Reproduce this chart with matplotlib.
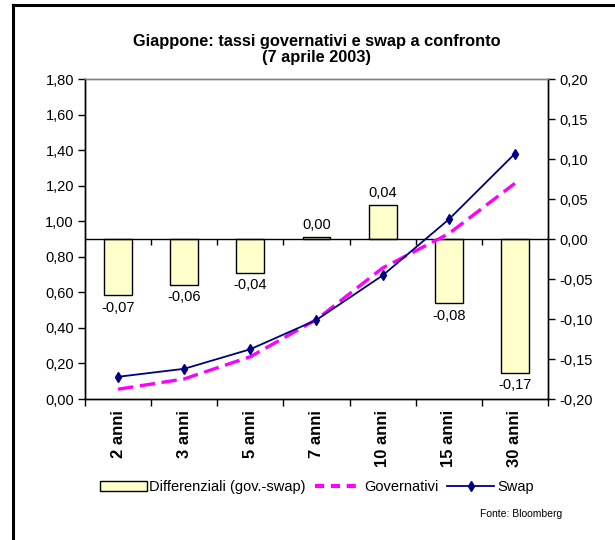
import numpy as np
import matplotlib.pyplot as plt
from matplotlib.lines import Line2D
from matplotlib.patches import Patch
from matplotlib.ticker import FuncFormatter

plt.rcParams['font.family'] = ['Liberation Sans', 'DejaVu Sans']

# Data
categories = ["2 anni", "3 anni", "5 anni", "7 anni", "10 anni", "15 anni", "30 anni"]
differenziali = [-0.070, -0.057, -0.042, 0.002, 0.042, -0.080, -0.167]
diff_labels = ["-0,07", "-0,06", "-0,04", "0,00", "0,04", "-0,08", "-0,17"]
governativi = [0.055, 0.113, 0.238, 0.447, 0.737, 0.930, 1.213]
swap = [0.125, 0.170, 0.280, 0.445, 0.695, 1.010, 1.380]


def comma_fmt(decimals):
    def f(v, p):
        v = round(v, decimals) + 0.0
        if v == 0:
            v = 0.0
        return f"{v:.{decimals}f}".replace(".", ",")
    return FuncFormatter(f)


fig = plt.figure(figsize=(6.15, 5.4), dpi=100)
ax = fig.add_axes([0.1382, 0.2611, 0.7528, 0.5926])
ax2 = ax.twinx()
x = np.arange(len(categories))

# Bars (differenziali) on the right-hand scale
ax.bar(x, differenziali, width=0.42, color="#ffffcc", edgecolor="black", linewidth=1.0, zorder=2)
ax.set_ylim(-0.20, 0.20)
ax.set_xlim(-0.5, len(categories) - 0.5)
ax.axhline(0, color="black", linewidth=1.0, zorder=3)
bounds = np.arange(len(categories) + 1) - 0.5
ax.vlines(bounds[1:-1], -0.007, 0, color="black", linewidth=1.0, zorder=3)
for xi, v, lab in zip(x, differenziali, diff_labels):
    if v >= 0:
        ax.annotate(lab, (xi, v), xytext=(0, 4), textcoords="offset points",
                    ha="center", va="bottom", fontsize=10.5)
    else:
        ax.annotate(lab, (xi, v), xytext=(0, -4), textcoords="offset points",
                    ha="center", va="top", fontsize=10.5)

ax.set_yticks(np.arange(-0.20, 0.201, 0.05))
ax.yaxis.set_major_formatter(comma_fmt(2))
ax.yaxis.tick_right()
ax.yaxis.set_label_position("right")
ax.tick_params(axis="y", direction="out", length=5, width=1, labelsize=10.5, pad=3,
               left=False, labelleft=False, right=True, labelright=True)

ax.set_xticks(x)
ax.set_xticklabels(categories, rotation=90, fontweight="bold", fontsize=12)
ax.set_xticks(bounds, minor=True)
ax.tick_params(axis="x", which="major", length=0, pad=8)
ax.tick_params(axis="x", which="minor", length=5, width=1, direction="out")

# Lines (tassi) on the left-hand scale
ax2.plot(x, governativi, color="#ff00ff", linewidth=2.4, dashes=(4.6, 2.0), zorder=4)
ax2.plot(x, swap, color="#000080", linewidth=1.3, marker="d", markersize=5, zorder=5)
ax2.set_ylim(0, 1.80)
ax2.set_yticks(np.arange(0, 1.801, 0.20))
ax2.yaxis.set_major_formatter(comma_fmt(2))
ax2.yaxis.tick_left()
ax2.tick_params(axis="y", direction="out", length=5, width=1, labelsize=10.5, pad=3,
                left=True, labelleft=True, right=False, labelright=False)

for a in (ax, ax2):
    a.spines["top"].set_color("#808080")
    a.spines["left"].set_color("black")
    a.spines["right"].set_color("black")
    a.spines["bottom"].set_color("black")
    for s in a.spines.values():
        s.set_linewidth(1.0)

fig.text(0.5146, 0.909, "Giappone: tassi governativi e swap a confronto\n(7 aprile 2003)",
         ha="center", va="center", fontsize=11.8, fontweight="bold", linespacing=1.1)

handles = [
    Patch(facecolor="#ffffcc", edgecolor="black", linewidth=1.0),
    Line2D([], [], color="#ff00ff", linewidth=3, dashes=(2.2, 1.6)),
    Line2D([], [], color="#000080", linewidth=1.3, marker="d", markersize=5),
]
fig.legend(handles, ["Differenziali (gov.-swap)", "Governativi", "Swap"],
           loc="center", bbox_to_anchor=(0.515, 0.098), ncol=3, frameon=False,
           fontsize=10.5, handlelength=3.2, handletextpad=0.2, columnspacing=0.6)

fig.text(0.915, 0.048, "Fonte: Bloomberg", ha="right", va="center", fontsize=7.5)

# Outer frame
fig.add_artist(Line2D([0.0211, 0.0211], [0.0, 0.9907], color="black", linewidth=2.2))
fig.add_artist(Line2D([0.0211, 1.0], [0.9907, 0.9907], color="black", linewidth=2.2))

fig.savefig("out.png", dpi=100)
